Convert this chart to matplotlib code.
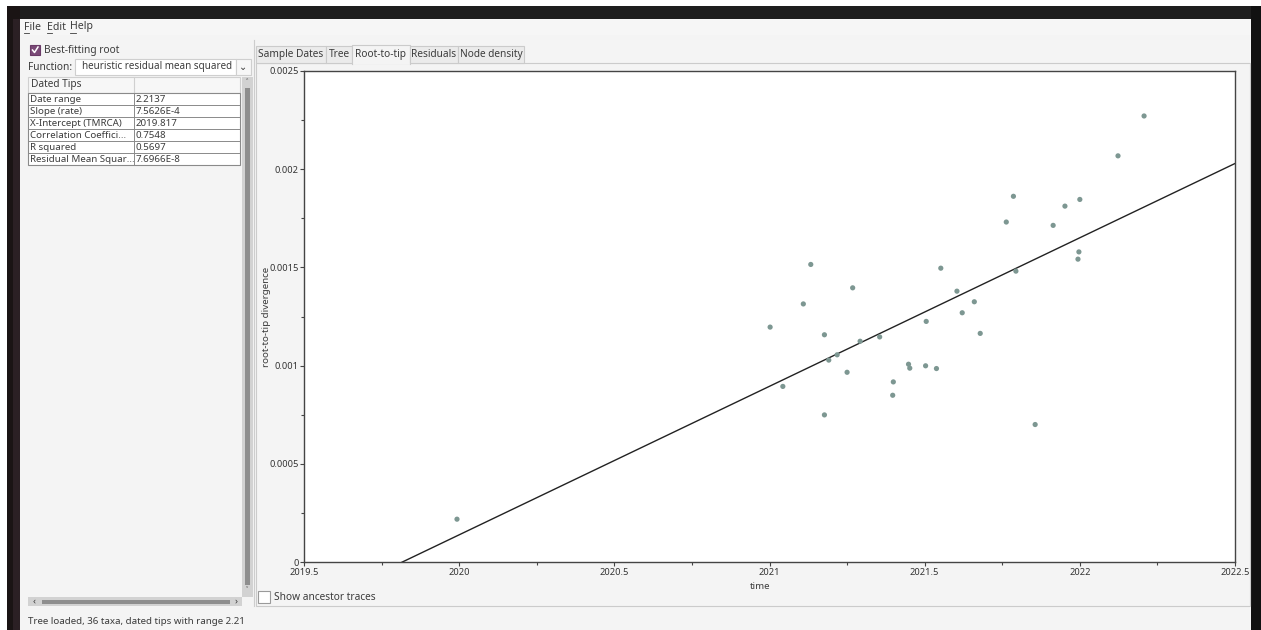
import matplotlib
matplotlib.use("Agg")
import numpy as np
import matplotlib.pyplot as plt
from matplotlib.patches import Rectangle
from matplotlib.lines import Line2D

# sampling dates (decimal years) and root-to-tip distances
dates = [2022.123, 2021.786, 2022.000, 2021.952, 2021.763, 2021.914, 2021.997,
         2021.994, 2021.133, 2021.552, 2021.794, 2021.268, 2021.109, 2021.604,
         2021.660, 2021.621, 2021.002, 2021.505, 2021.177, 2021.355, 2021.292,
         2021.679, 2021.218, 2021.191, 2021.250, 2021.448, 2021.452, 2021.503,
         2021.538, 2021.399, 2021.043, 2021.397, 2021.177, 2021.856, 2019.993,
         2022.207]
divergence = [0.002068, 0.001862, 0.001846, 0.001812, 0.001731, 0.001714, 0.001579,
              0.001542, 0.001515, 0.001496, 0.001481, 0.001396, 0.001314, 0.001379,
              0.001325, 0.001269, 0.001196, 0.001225, 0.001157, 0.001146, 0.001124,
              0.001164, 0.001055, 0.001028, 0.000966, 0.001007, 0.000987, 0.000999,
              0.000985, 0.000917, 0.000894, 0.000849, 0.000749, 0.000700, 0.000218,
              0.002271]

slope = 7.5626e-4
x_intercept = 2019.817

stat_names = ["Date range", "Slope (rate)", "X-Intercept (TMRCA)",
              "Correlation Coeffici...", "R squared", "Residual Mean Squar..."]
stat_values = ["2.2137", "7.5626E-4", "2019.817", "0.7548", "0.5697", "7.6966E-8"]

x_ticks = [2019.5, 2020, 2020.5, 2021, 2021.5, 2022, 2022.5]
x_ticklabels = ["2019.5", "2020", "2020.5", "2021", "2021.5", "2022", "2022.5"]
y_ticks = [0, 0.0005, 0.001, 0.0015, 0.002, 0.0025]
y_ticklabels = ["0", "0.0005", "0.001", "0.0015", "0.002", "0.0025"]

tabs = ["Sample Dates", "Tree", "Root-to-tip", "Residuals", "Node density"]
tab_edges = [256, 326, 352, 410, 458, 524]

W, H = 1261, 630
plt.rcParams['font.family'] = ['Noto Sans', 'DejaVu Sans']
fig = plt.figure(figsize=(W / 100, H / 100), dpi=100)
fig.patch.set_facecolor('#f4f4f4')

UI = '#3c3c3c'
FS = 7.3


def box(x0, y0, x1, y1, fc, ec='none', lw=0.8, z=1):
    r = Rectangle((x0 / W, 1 - y1 / H), (x1 - x0) / W, (y1 - y0) / H,
                  transform=fig.transFigure, facecolor=fc, edgecolor=ec,
                  linewidth=lw, zorder=z)
    fig.add_artist(r)


def line(xs, ys, c='#c4c4c4', lw=0.8, z=2):
    fig.add_artist(Line2D([x / W for x in xs], [1 - y / H for y in ys],
                          transform=fig.transFigure, color=c, linewidth=lw, zorder=z))


def label(x, y, s, size=FS, **kw):
    kw.setdefault('va', 'center')
    kw.setdefault('color', UI)
    fig.text(x / W, 1 - y / H, s, fontsize=size, **kw)


# window frame
box(0, 0, W, 6, 'white', z=0)
box(0, 0, 7, H, 'white', z=0)
box(7, 6, W, 19, '#1e1e1e', z=0)
box(7, 6, 20, H, '#1a1414', z=0)
box(13, 19, 20, H, '#2b2024', z=0)
box(1251, 6, W, H, '#111111', z=0)

# menu bar
box(20, 19, 1251, 35, '#f6f6f6', z=0)
label(24, 27, "File", size=7.6)
label(47, 27, "Edit", size=7.6)
label(70, 27, "Help", size=7.6)
line([24, 29], [33, 33], c=UI, lw=0.6)
line([47, 52], [33, 33], c=UI, lw=0.6)
line([70, 76], [33, 33], c=UI, lw=0.6)

# left panel: best-fitting root
box(30, 45, 40, 55, '#7a4a77', ec='#6a3a67', z=2)
line([32.5, 34.5, 38], [50, 52.5, 47], c='white', lw=1.1, z=3)
label(44, 50, "Best-fitting root")
label(28, 67, "Function:")
box(75, 59, 236, 75, 'white', ec='#cfcfcf', z=2)
label(82, 67, "heuristic residual mean squared", size=7.1)
box(236, 59, 251, 75, '#f7f7f7', ec='#cfcfcf', z=2)
label(243.5, 67.5, "⌄", size=7, ha='center')

# statistics table
box(28, 77, 240, 93, '#f7f7f7', ec='#d0d0d0', z=2)
line([134, 134], [77, 93], c='#d0d0d0')
label(31, 85, "Dated Tips")
box(28, 93, 240, 165, 'white', ec='#8a8a8a', z=2)
for i, (nm, val) in enumerate(zip(stat_names, stat_values)):
    yc = 99.3 + 12 * i
    label(30, yc, nm, size=FS - 0.3)
    label(136, yc, val, size=FS - 0.3)
    if i > 0:
        line([28, 240], [yc - 6, yc - 6], c='#8a8a8a', lw=0.7, z=3)
line([134, 134], [93, 165], c='#8a8a8a', lw=0.7, z=3)

# scrollbars
box(242, 77, 253, 597, '#d2d2d2', z=2)
box(245, 88, 250, 585, '#8e8e8e', z=3)
label(247.5, 82, "˄", size=6, ha='center')
label(247.5, 591, "˅", size=6, ha='center')
box(28, 597, 242, 606, '#d2d2d2', z=2)
box(42, 599.5, 230, 603.5, '#8e8e8e', z=3)
label(34, 601.5, "‹", size=7, ha='center')
label(236, 601.5, "›", size=7, ha='center')

# splitter
line([254, 254], [40, 606], c='#cdcdcd', lw=0.8)

# tab strip
box(256, 63, 1250, 606, '#f4f4f4', ec='#cbcbcb', z=1)
for i, t in enumerate(tabs):
    x0, x1 = tab_edges[i], tab_edges[i + 1]
    if t == "Root-to-tip":
        box(x0, 45, x1, 64, '#f4f4f4', ec='none', z=2)
        line([x0, x0, x1, x1], [64, 45, 45, 64], c='#cbcbcb')
    else:
        box(x0, 46, x1, 63, '#ebebeb', ec='#cbcbcb', z=2)
    label((x0 + x1) / 2, 54.5, t, ha='center')

# ancestor traces checkbox
box(258, 591, 270, 603, 'white', ec='#9a9a9a', z=2)
label(274, 597, "Show ancestor traces")

# status bar
label(28, 621, "Tree loaded, 36 taxa, dated tips with range 2.21", size=7.0)

# root-to-tip plot
ax = fig.add_axes([304 / W, 1 - 562 / H, (1235 - 304) / W, (562 - 71) / H])
ax.set_zorder(5)
ax.set_facecolor('white')
ax.scatter(dates, divergence, s=14, color='#7d9792', edgecolors='none', zorder=3)
xl = np.array([x_ticks[0], x_ticks[-1]])
ax.plot(xl, slope * (xl - x_intercept), color='#222222', linewidth=1.0, zorder=2)
ax.set_xlim(x_ticks[0], x_ticks[-1])
ax.set_ylim(y_ticks[0], y_ticks[-1])
ax.set_xticks(x_ticks)
ax.set_xticklabels(x_ticklabels)
ax.set_yticks(y_ticks)
ax.set_yticklabels(y_ticklabels)
ax.set_xticks([t + 0.25 for t in x_ticks[:-1]], minor=True)
ax.set_yticks([t + 0.00025 for t in y_ticks[:-1]], minor=True)
ax.tick_params(which='major', direction='out', length=3, width=0.8, color='#444444',
               labelsize=6.7, labelcolor='#333333', pad=1)
ax.tick_params(which='minor', direction='out', length=2, width=0.8, color='#444444')
for s in ax.spines.values():
    s.set_color('#444444')
    s.set_linewidth(1.0)
ax.set_xlabel("time", fontsize=FS - 0.3, color=UI)
ax.set_ylabel("root-to-tip divergence", fontsize=FS - 0.3, color=UI)
ax.xaxis.set_label_coords(0.49, -0.04)
ax.yaxis.set_label_coords(-0.035, 0.5)

fig.savefig("out.png", dpi=100)
